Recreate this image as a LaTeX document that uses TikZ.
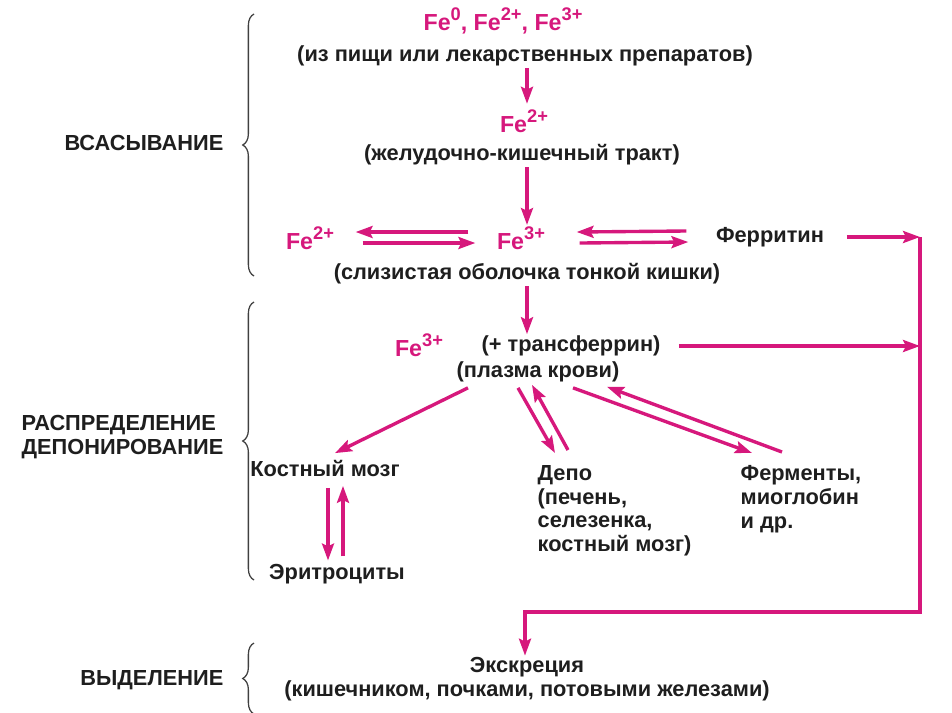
\documentclass[tikz,border=0pt]{standalone}
\usepackage{fontspec}
\setmainfont{Liberation Sans}
\usetikzlibrary{arrows.meta,decorations.pathreplacing}
\definecolor{fepink}{RGB}{214,24,124}
\definecolor{ink}{RGB}{30,30,30}
\newcommand{\feion}[1]{Fe\raisebox{0.42em}{\fontsize{13}{13}\selectfont #1}}

\begin{document}
\begin{tikzpicture}[x=0.025cm,y=-0.025cm,
	txt/.style={font=\fontsize{15.5}{16.8}\selectfont\bfseries, text=ink, inner sep=1pt},
	fe/.style={txt, font=\fontsize{16.5}{18}\selectfont\bfseries, text=fepink},
	arr/.style={fepink, line width=2.4pt, -{Stealth[length=12pt,width=8.5pt,inset=2pt]}},
	brc/.style={ink!85, line width=0.9pt, decorate, decoration={brace,amplitude=8pt}}]
	\useasboundingbox (0,0) rectangle (952,712);
	% stages
	\node[txt, anchor=east] (absorb) at (225,143) {ВСАСЫВАНИЕ};
	\node[txt, anchor=east, align=left] (distrib) at (225,437) {РАСПРЕДЕЛЕНИЕ\\ДЕПОНИРОВАНИЕ};
	\node[txt, anchor=east] (excrlab) at (225,680) {ВЫДЕЛЕНИЕ};
	\draw[brc] (254,276) -- (254,14);
	\draw[brc] (254,580) -- (254,302);
	\draw[brc] (254,714) -- (254,643);
	% absorption
	\node[fe] (fesrc) at (503,21) {\feion{0}, \feion{2+}, \feion{3+}};
	\node[txt] (food) at (525,56) {(из пищи или лекарственных препаратов)};
	\node[fe] (fetwo) at (524,121) {\feion{2+}};
	\node[txt] (git) at (522,155) {(желудочно-кишечный тракт)};
	\node[fe] (fetwoB) at (310,238) {\feion{2+}};
	\node[fe] (fethree) at (521,238) {\feion{3+}};
	\node[txt] (ferritin) at (770,237) {Ферритин};
	\node[txt] (mucosa) at (527,274) {(слизистая оболочка тонкой кишки)};
	% distribution
	\node[fe] (fethreeB) at (419,345) {\feion{3+}};
	\node[txt] (transf) at (571,346) {(+ трансферрин)};
	\node[txt] (plasma) at (538,372) {(плазма крови)};
	\node[txt] (marrow) at (325,468) {Костный мозг};
	\node[txt, anchor=north west, align=left] (depot) at (536,464) {Депо\\(печень,\\селезенка,\\костный мозг)};
	\node[txt, anchor=north west, align=left] (enzymes) at (739,464) {Ферменты,\\миоглобин\\и др.};
	\node[txt] (eryth) at (337,574) {Эритроциты};
	% excretion
	\node[txt, align=center] (excr) at (527,679) {Экскреция\\(кишечником, почками, потовыми железами)};
	\coordinate (trunk) at (527,0);
	\coordinate (tj) at (920,237);
	\coordinate (knee) at (525,612);
	% arrows
	\draw[arr] (food.south -| trunk) -- ([yshift=3pt]fetwo.north -| trunk);
	\draw[arr] (git.south -| trunk) -- (fethree.north -| trunk);
	\draw[arr] ([shift={(-27,-6)}]fethree.west) -- ([shift={(20,-6)}]fetwoB.east);
	\draw[arr] ([shift={(27,5)}]fetwoB.east) -- ([shift={(-20,5)}]fethree.west);
	\draw[arr] ([shift={(-28,-6)}]ferritin.west) -- ([shift={(30,-6)}]fethree.east);
	\draw[arr] ([shift={(33,5)}]fethree.east) -- ([shift={(-26,5)}]ferritin.west);
	\draw[arr] ([xshift=15pt]ferritin.east) -- (tj);
	\draw[arr] (mucosa.south -| trunk) -- (transf.north -| trunk);
	\draw[arr] ([xshift=12pt]transf.east) -- (transf.east -| tj);
	\draw[arr] (tj) |- (knee) -- (excr.north -| knee);
	\draw[arr] ([shift={(-70,4)}]plasma.south) -- ([shift={(10,-5)}]marrow.north);
	\draw[arr] ([shift={(-20,4)}]plasma.south) -- ([shift={(19,-11)}]depot.north west);
	\draw[arr] ([shift={(32,-14)}]depot.north west) -- ([shift={(-6,1)}]plasma.south);
	\draw[arr] ([shift={(35,4)}]plasma.south) -- ([shift={(13,-11)}]enzymes.north west);
	\draw[arr] ([shift={(43,-12)}]enzymes.north west) -- ([shift={(69,3)}]plasma.south);
	\draw[arr] ([shift={(3,10)}]marrow.south) -- ([shift={(-9,-2)}]eryth.north);
	\draw[arr] ([shift={(6,-6)}]eryth.north) -- ([shift={(18,8)}]marrow.south);
\end{tikzpicture}
\end{document}
